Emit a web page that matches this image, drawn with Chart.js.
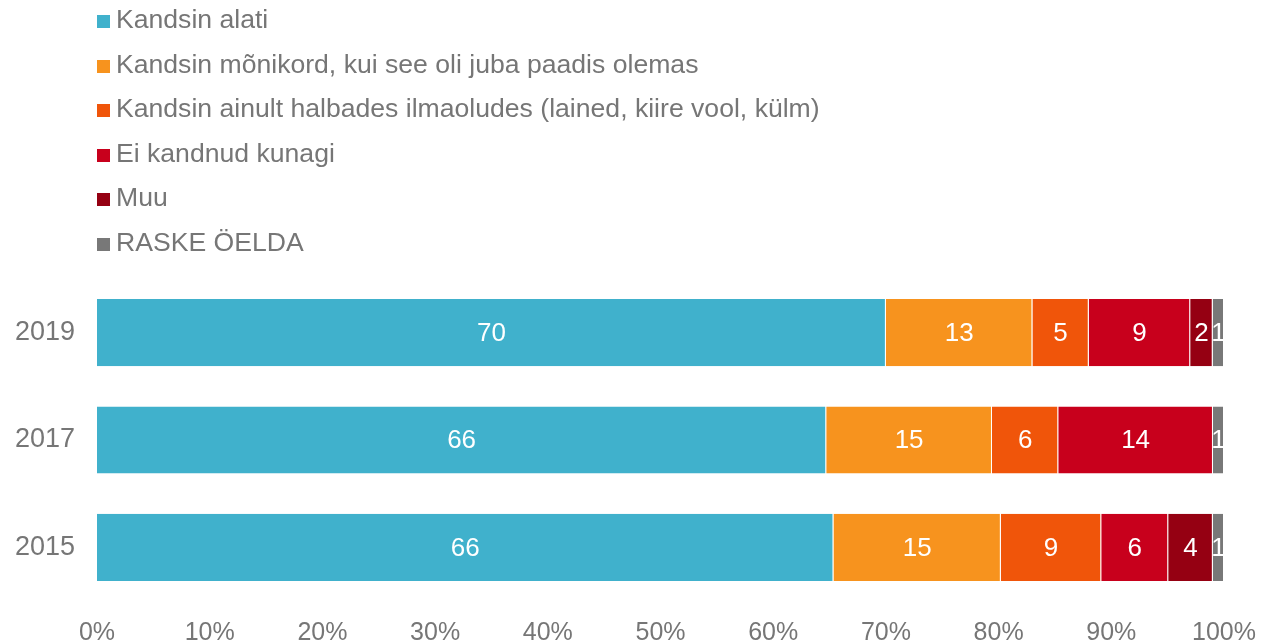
<!DOCTYPE html>
<html lang="et">
<head>
  <meta charset="UTF-8">
  <title>Chart</title>
  <script src="https://cdn.jsdelivr.net/npm/chart.js"></script>
  <style>
    body{
      margin: 0;
      font-family: "Liberation Sans", Arial, sans-serif;
      background: white;
    }
    #wrap {
      position: relative;
      width: 1263px;
      height: 644px;
    }
    #legend {
      position: absolute;
      left: 97px;
      top: 0;
      margin: 0;
      padding: 0;
      list-style: none;
    }
    #legend li {
      height: 44.6px;
      line-height: 38px;
      font-size: 26.6px;
      color: #767676;
      white-space: nowrap;
    }
    #legend span.box {
      display: inline-block;
      width: 13px;
      height: 13px;
      margin-right: 6px;
    }
  </style>
</head>
<body>
  <div id="wrap">
    <ul id="legend"></ul>
    <canvas id="myChart" width="1263" height="644"></canvas>
  </div>

  <script>
    // categories, top to bottom
    const years = ['2019', '2017', '2015'];

    // series values as shown in the labels
    const alati = [70, 66, 66];
    const monikord = [13, 15, 15];
    const halbades = [5, 6, 9];
    const kunagi = [9, 14, 6];
    const muu = [2, 0, 4];
    const raske = [1, 1, 1];

    const seriesNames = [
      'Kandsin alati',
      'Kandsin mõnikord, kui see oli juba paadis olemas',
      'Kandsin ainult halbades ilmaoludes (lained, kiire vool, külm)',
      'Ei kandnud kunagi',
      'Muu',
      'RASKE ÖELDA'
    ];
    const seriesValues = [alati, monikord, halbades, kunagi, muu, raske];
    const colors = ['#40B1CC', '#F7931E', '#F0550A', '#C8001C', '#950012', '#787878'];

    const xTicks = [0, 10, 20, 30, 40, 50, 60, 70, 80, 90, 100];

    // totals per year, bars are stretched to 100%
    const totals = years.map((y, i) => seriesValues.reduce((s, arr) => s + arr[i], 0));

    const datasets = seriesValues.map((vals, k) => ({
      label: seriesNames[k],
      data: vals.map((v, i) => v / totals[i] * 100),
      raw: vals,
      backgroundColor: colors[k],
      borderColor: 'rgba(255,255,255,0.35)',
      borderWidth: {left: 0, right: 1, top: 0, bottom: 0},
      borderSkipped: false,
      categoryPercentage: 1,
      barPercentage: 0.626
    }));

    // legend, one item per line
    const legendEl = document.getElementById('legend');
    seriesNames.forEach((name, k) => {
      const li = document.createElement('li');
      li.innerHTML = '<span class="box" style="background:' + colors[k] + '"></span>' + name;
      legendEl.appendChild(li);
    });

    // white value labels in the middle of each segment
    const valueLabels = {
      id: 'valueLabels',
      afterDatasetsDraw(chart) {
        const ctx = chart.ctx;
        ctx.save();
        ctx.fillStyle = 'white';
        ctx.font = '26px "Liberation Sans", Arial, sans-serif';
        ctx.textAlign = 'center';
        ctx.textBaseline = 'middle';
        chart.data.datasets.forEach((ds, k) => {
          const meta = chart.getDatasetMeta(k);
          meta.data.forEach((bar, i) => {
            const v = ds.raw[i];
            if (!v) return;
            const cx = (bar.x + bar.base) / 2;
            ctx.fillText(String(v), cx, bar.y + 1);
          });
        });
        ctx.restore();
      }
    };

    const ctx = document.getElementById('myChart').getContext('2d');
    const myChart = new Chart(ctx, {
      type: 'bar',
      data: {
        labels: years,
        datasets: datasets
      },
      options: {
        indexAxis: 'y',
        responsive: false,
        animation: false,
        layout: {
          padding: {top: 279, right: 39, left: 0, bottom: 0}
        },
        plugins: {
          legend: { display: false },
          tooltip: { enabled: false }
        },
        scales: {
          x: {
            stacked: true,
            min: 0,
            max: 100,
            grid: { display: false, drawTicks: false },
            border: { display: false },
            afterBuildTicks(scale) {
              scale.ticks = xTicks.map(v => ({value: v}));
            },
            afterFit(scale) {
              scale.height = 43;
              scale.paddingRight = 0;
              scale.paddingLeft = 0;
            },
            ticks: {
              padding: 17,
              color: '#767676',
              font: { size: 25, family: '"Liberation Sans", Arial, sans-serif' },
              callback: v => v + '%'
            }
          },
          y: {
            stacked: true,
            grid: { display: false, drawTicks: false },
            border: { display: false },
            afterFit(scale) {
              scale.width = 97;
            },
            ticks: {
              padding: 22,
              color: '#767676',
              font: { size: 27, family: '"Liberation Sans", Arial, sans-serif' }
            }
          }
        }
      },
      plugins: [valueLabels]
    });
  </script>
</body>
</html>
